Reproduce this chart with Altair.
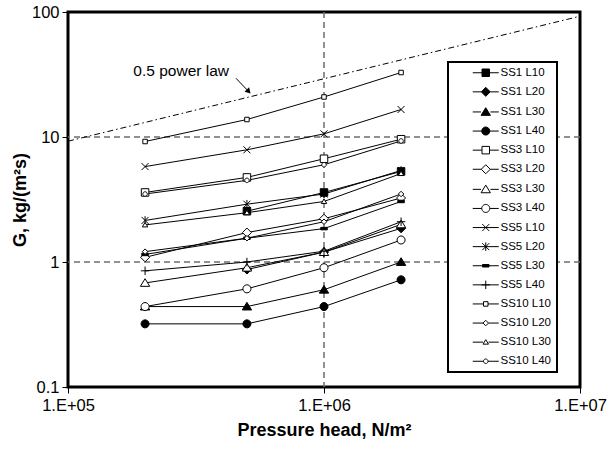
import math
import altair as alt
import pandas as pd

# ---------------- data ----------------
pressure = [2e5, 5e5, 1e6, 2e6]
series = ["SS1 L10", "SS1 L20", "SS1 L30", "SS1 L40",
          "SS3 L10", "SS3 L20", "SS3 L30", "SS3 L40",
          "SS5 L10", "SS5 L20", "SS5 L30", "SS5 L40",
          "SS10 L10", "SS10 L20", "SS10 L30", "SS10 L40"]
ss1_l10 = [None, 2.55, 3.6, 5.3]
ss1_l20 = [None, 0.87, 1.2, 1.86]
ss1_l30 = [0.44, 0.44, 0.6, 1.0]
ss1_l40 = [0.32, 0.32, 0.44, 0.72]
ss3_l10 = [3.6, 4.75, 6.7, 9.6]
ss3_l20 = [1.09, 1.72, 2.22, 3.25]
ss3_l30 = [0.68, 0.9, 1.2, 2.0]
ss3_l40 = [0.44, 0.61, 0.9, 1.5]
ss5_l10 = [5.8, 7.9, 10.6, 16.6]
ss5_l20 = [2.15, 2.9, 3.5, 5.4]
ss5_l30 = [1.15, 1.55, 1.85, 3.05]
ss5_l40 = [0.85, 1.0, 1.22, 2.1]
ss10_l10 = [9.2, 13.8, 20.9, 32.8]
ss10_l20 = [1.21, 1.55, 2.1, 3.5]
ss10_l30 = [1.98, 2.48, 3.05, 5.1]
ss10_l40 = [3.5, 4.5, 6.0, 9.3]
all_values = [ss1_l10, ss1_l20, ss1_l30, ss1_l40,
              ss3_l10, ss3_l20, ss3_l30, ss3_l40,
              ss5_l10, ss5_l20, ss5_l30, ss5_l40,
              ss10_l10, ss10_l20, ss10_l30, ss10_l40]

power_law_x = [1e5, 1e7]
power_law_g = [9.25, 92.5]
arrow_from = [4.53e5, 29.5]
arrow_to = [5.05e5, 23.4]
annotation_xy = [1.8e5, 33.6]
annotation_text = "0.5 power law"
grid_x = [1e6]
grid_y = [1, 10]
x_ticks = [1e5, 1e6, 1e7]
y_ticks = [0.1, 1, 10, 100]

# marker kinds / fills per series
kinds = ["square", "diamond", "triangle", "circle",
         "square", "diamond", "triangle", "circle",
         "x", "asterisk", "dash", "plus",
         "s_square", "s_diamond", "s_triangle", "s_circle"]
fills = ["black"] * 4 + ["white"] * 4 + ["white", "white", "black", "white"] + ["white"] * 4
strokes = ["black"] * 16

# ---------------- marker paths ----------------
def f(v):
    s = f"{v:.3f}"
    return "0" if s in ("-0.000", "0.000") else s

def poly(pts, cx):
    return "M" + "L".join(f"{f(x + cx)},{f(y)}" for x, y in pts) + "Z"

def marker(kind, cx=0.0):
    """returns (path, half width)"""
    if kind in ("square", "s_square"):
        h = 0.75 if kind == "square" else 0.45
        return poly([(-h, -h), (h, -h), (h, h), (-h, h)], cx), h
    if kind in ("diamond", "s_diamond"):
        h = 0.9 if kind == "diamond" else 0.55
        return poly([(0, -h), (h, 0), (0, h), (-h, 0)], cx), h
    if kind in ("triangle", "s_triangle"):
        h = 0.85 if kind == "triangle" else 0.5
        return poly([(0, -h), (1.1 * h, 0.8 * h), (-1.1 * h, 0.8 * h)], cx), 1.1 * h
    if kind in ("circle", "s_circle"):
        r = 0.8 if kind == "circle" else 0.45
        pts = [(r * math.cos(2 * math.pi * i / 24), r * math.sin(2 * math.pi * i / 24)) for i in range(24)]
        return poly(pts, cx), r
    if kind == "x":
        h = 0.7
        return (f"M{f(cx-h)},{f(-h)}L{f(cx+h)},{f(h)}M{f(cx-h)},{f(h)}L{f(cx+h)},{f(-h)}"), 0
    if kind == "asterisk":
        h = 0.7
        return (f"M{f(cx-h)},{f(-h)}L{f(cx+h)},{f(h)}M{f(cx-h)},{f(h)}L{f(cx+h)},{f(-h)}"
                f"M{f(cx)},{f(-0.85)}L{f(cx)},{f(0.85)}"), 0
    if kind == "plus":
        h = 0.85
        return f"M{f(cx-h)},0L{f(cx+h)},0M{f(cx)},{f(-h)}L{f(cx)},{f(h)}", 0
    if kind == "dash":
        return poly([(-0.65, -0.25), (0.65, -0.25), (0.65, 0.25), (-0.65, 0.25)], cx), 0.65
    raise ValueError(kind)

plot_shapes = [marker(k)[0] for k in kinds]

LINE0, LINE1, MCX = 2.8, 8.0, 5.4
legend_shapes = []
for k in kinds:
    p, w = marker(k, MCX)
    legend_shapes.append(f"M{f(LINE0)},0L{f(MCX - w)},0" + p + f"M{f(MCX + w)},0L{f(LINE1)},0")

# ---------------- tables ----------------
rows = []
for name, vals in zip(series, all_values):
    for p, v in zip(pressure, vals):
        if v is not None:
            rows.append({"series": name, "pressure": p, "G": v})
df = pd.DataFrame(rows)

power_df = pd.DataFrame({"pressure": power_law_x, "G": power_law_g})
arrow_df = pd.DataFrame({"pressure": [arrow_from[0]], "G": [arrow_from[1]],
                         "pressure2": [arrow_to[0]], "G2": [arrow_to[1]]})
tip_df = pd.DataFrame({"pressure": [arrow_to[0]], "G": [arrow_to[1]]})
text_df = pd.DataFrame({"pressure": [annotation_xy[0]], "G": [annotation_xy[1]], "label": [annotation_text]})
gx_df = pd.DataFrame({"pressure": grid_x})
gy_df = pd.DataFrame({"G": grid_y})

FONT = "Liberation Sans"

xscale = alt.Scale(type="log", domain=[1e5, 1e7], nice=False)
yscale = alt.Scale(type="log", domain=[0.1, 100], nice=False)

X = alt.X("pressure:Q", scale=xscale, axis=alt.Axis(
    values=x_ticks, labelExpr="'1.E+' + format(round(log(datum.value)/LN10), '02d')",
    title="Pressure head, N/m²", titleY=34, labelPadding=4, tickSize=6, grid=False,
    domain=False, labelFlush=False, labelOverlap=False))
Y = alt.Y("G:Q", scale=yscale, axis=alt.Axis(
    values=y_ticks, format="~g", title="G, kg/(m²s)", titleX=-39,
    labelPadding=3, tickSize=6, grid=False, domain=False, labelFlush=False, labelOverlap=False))

grid_style = dict(color="#6e6e6e", strokeWidth=1.5, strokeDash=[6, 4])
gridx = alt.Chart(gx_df).mark_rule(**grid_style).encode(x=alt.X("pressure:Q", scale=xscale))
gridy = alt.Chart(gy_df).mark_rule(**grid_style).encode(y=alt.Y("G:Q", scale=yscale))

power = alt.Chart(power_df).mark_line(color="black", strokeWidth=1, strokeDash=[6, 3, 1.5, 3]).encode(x=X, y=Y)

arrow = alt.Chart(arrow_df).mark_rule(color="black", strokeWidth=1).encode(
    x=alt.X("pressure:Q", scale=xscale), y=alt.Y("G:Q", scale=yscale),
    x2="pressure2:Q", y2="G2:Q")
tip = alt.Chart(tip_df).mark_point(shape="triangle", angle=137, filled=True, color="black",
                                   size=40, opacity=1).encode(
    x=alt.X("pressure:Q", scale=xscale), y=alt.Y("G:Q", scale=yscale))
label = alt.Chart(text_df).mark_text(align="left", baseline="middle", font=FONT, fontSize=15.5,
                                     color="black").encode(
    x=alt.X("pressure:Q", scale=xscale), y=alt.Y("G:Q", scale=yscale), text="label:N")

lines = alt.Chart(df).mark_line(color="black", strokeWidth=1).encode(
    x=X, y=Y, detail="series:N", order="pressure:Q")

points = alt.Chart(df).mark_point(filled=False, stroke="black", strokeWidth=1, opacity=1, size=100).encode(
    x=alt.X("pressure:Q", scale=xscale), y=alt.Y("G:Q", scale=yscale),
    shape=alt.Shape("series:N", scale=alt.Scale(domain=series, range=plot_shapes), legend=None),
    fill=alt.Fill("series:N", scale=alt.Scale(domain=series, range=fills), legend=None))

leg = alt.Legend(orient="none", legendX=380, legendY=50, title=None, direction="vertical", columns=1,
                 padding=5, strokeColor="black", fillColor="white",
                 symbolSize=100, symbolStrokeWidth=1, symbolOpacity=1,
                 labelFont=FONT, labelFontSize=11.5, labelColor="black", labelOffset=36,
                 rowPadding=6.1, labelExpr="datum.label + '\u00a0\u00a0\u00a0'")
legend_layer = alt.Chart(df).transform_filter("datum.G < 0").mark_point(
    filled=False, strokeWidth=1, opacity=1, size=100).encode(
    shape=alt.Shape("series:N", scale=alt.Scale(domain=series, range=legend_shapes), legend=leg),
    fill=alt.Fill("series:N", scale=alt.Scale(domain=series, range=fills), legend=leg),
    stroke=alt.Stroke("series:N", scale=alt.Scale(domain=series, range=strokes), legend=leg))

chart = alt.layer(gridx, gridy, power, arrow, tip, label, lines, points, legend_layer).resolve_scale(
    shape="independent", fill="independent", stroke="independent"
).properties(
    width=512, height=375,
    padding={"left": 68, "top": 12, "right": 29, "bottom": 66},
    autosize=alt.AutoSizeParams(type="none"),
    background="white",
).configure_view(
    stroke="black", strokeWidth=3
).configure_axis(
    labelFont=FONT, labelFontSize=16.5, labelColor="black",
    titleFont=FONT, titleFontSize=18, titleFontWeight="bold", titleColor="black",
    tickColor="black", tickWidth=1,
).configure_legend(
    strokeWidth=2
)

chart.save("out.html", embed_options={"renderer": "svg", "actions": False})
